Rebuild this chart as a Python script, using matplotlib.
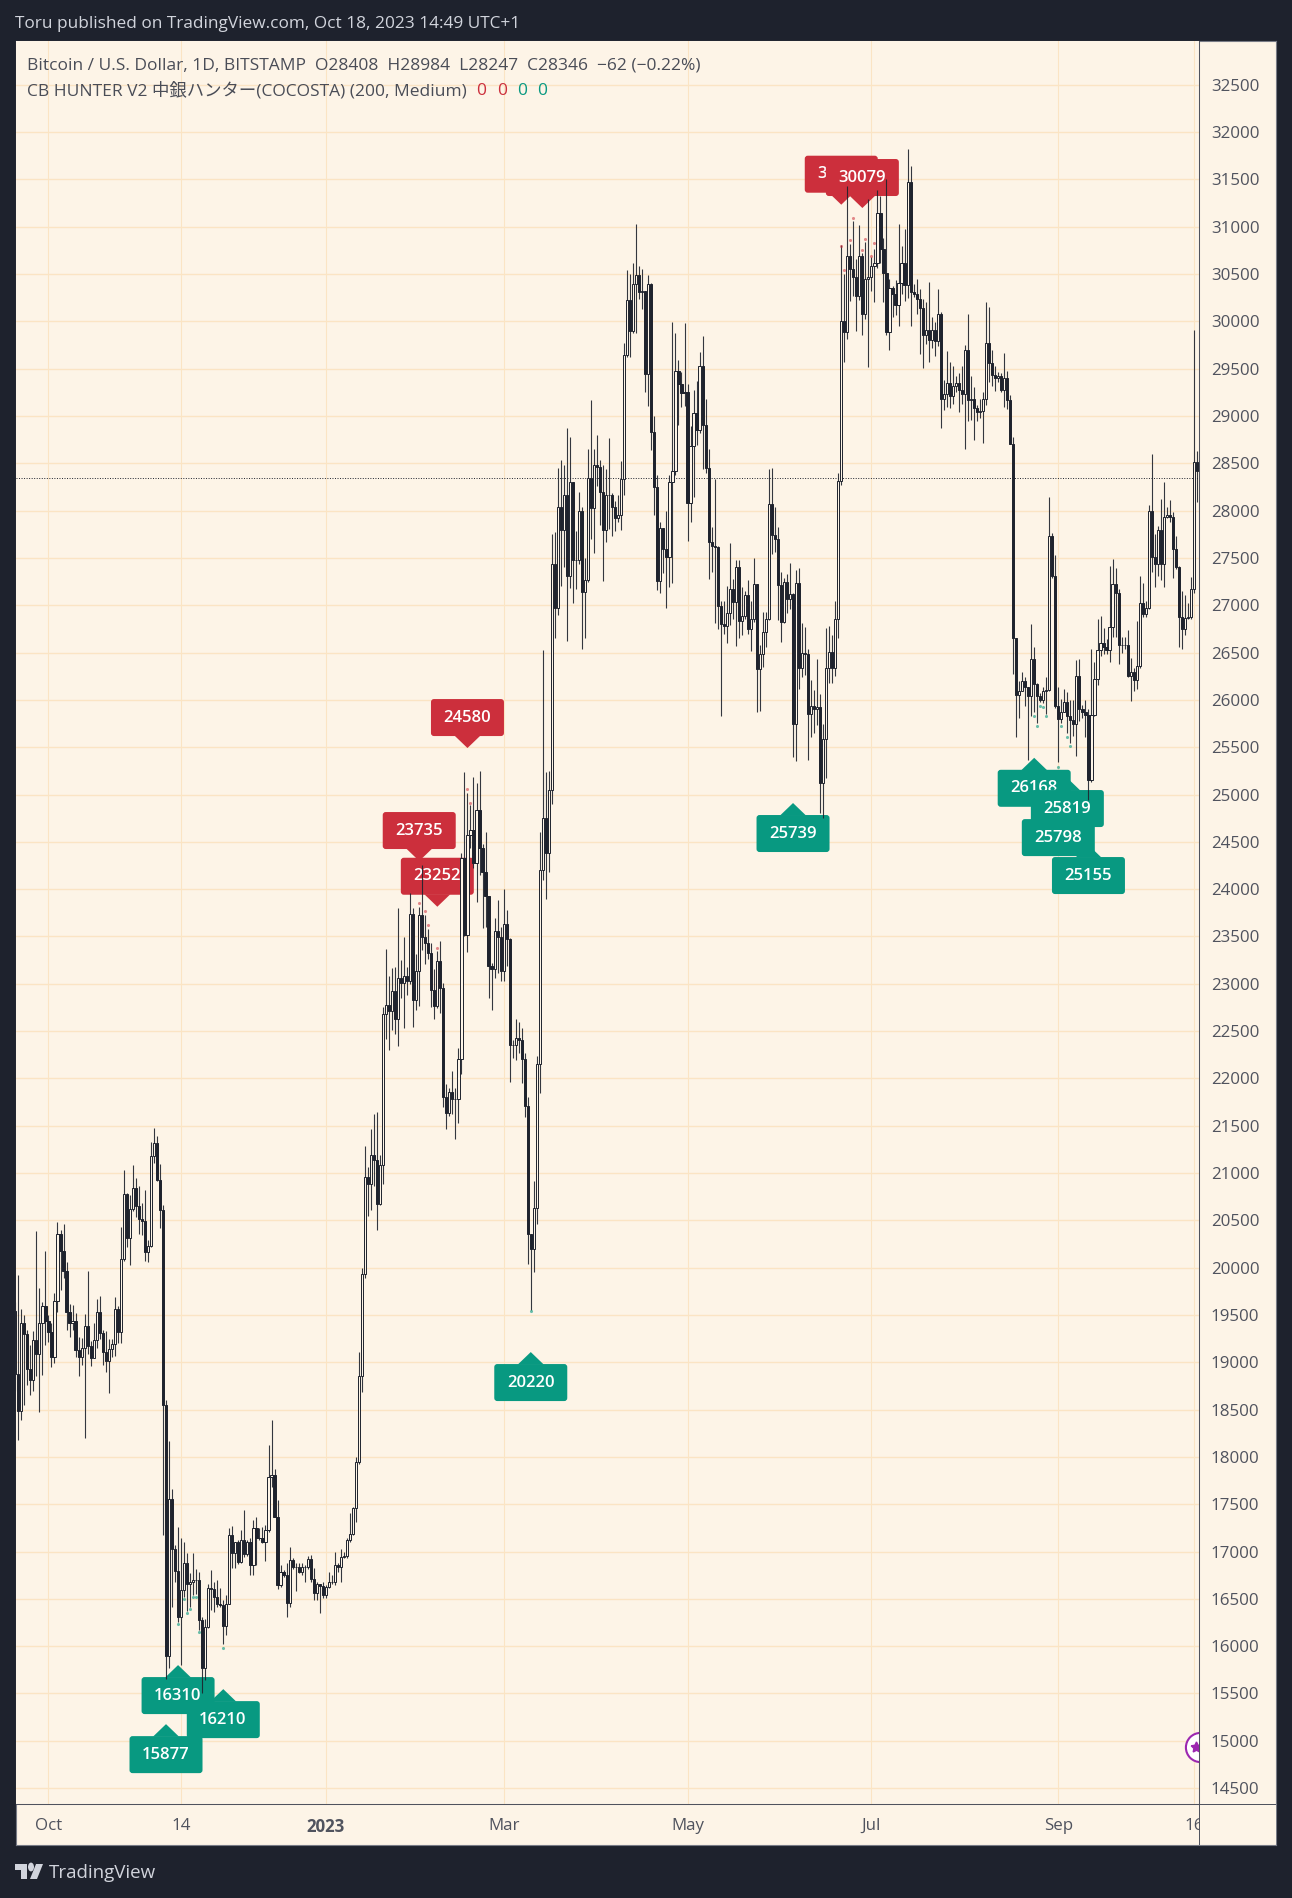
import pandas as pd
import numpy as np
import matplotlib
matplotlib.use('Agg')
import matplotlib.pyplot as plt
import matplotlib.dates as mdates
from matplotlib.patches import Rectangle, FancyBboxPatch, Polygon, Circle
from matplotlib.transforms import Affine2D

plt.rcParams['font.family'] = ['Open Sans', 'Noto Sans CJK JP', 'DejaVu Sans']

W, H = 1292, 1898
DARK = '#1e222d'
CREAM = '#fdf4e7'
GRID = '#fbe4c4'
RED = '#cc2f3c'
TEAL = '#089981'
TICK = '#50535e'

first_open = 19540
first_day = '2022-09-20'

closes = [
    18880, 18480, 19415, 19300, 18925, 18810, 19240, 19085, 19415, 19600, 19440,  # sep
    19320, 19060, 19650, 20360, 20180, 19965, 19535, 19415, 19440, 19135, 19055, 19155, 19385, 19175, 19040, 19240,
    19530, 19310, 19105, 19015, 19145, 19190, 19565, 19320, 20090, 20780, 20310, 20615, 20840, 20650, 20510,  # oct
    20495, 20170, 20230, 21180, 21320, 20930, 20610, 18550, 15894, 17554, 17025, 16796, 16310, 16592, 16881, 16662,
    16680, 16697, 16697, 16275, 15771, 16204, 16617, 16600, 16521, 16450, 16433, 16215, 16450, 17180,  # nov
    16986, 17103, 16891, 17127, 16972, 17103, 16856, 17244, 17138, 17138, 17103, 17226, 17783, 17807, 17367, 16645,
    16786, 16750, 16458, 16909, 16838, 16838, 16786, 16838, 16838, 16926, 16715, 16557, 16655, 16634, 16539,  # dec
    16627, 16680, 16680, 16856, 16838, 16944, 16950, 17127, 17184, 17455, 17941, 18850, 19930, 20960, 20880, 21190,
    21135, 20670, 21080, 22680, 22780, 22710, 22920, 22630, 23060, 23010, 23080, 23030, 23740, 22830, 23130,  # jan
    23730, 23490, 23430, 23330, 22930, 22760, 23240, 22960, 21800, 21630, 21860, 21780, 21785, 22200, 24330, 23520,
    24570, 24630, 24280, 24840, 24440, 24180, 23930, 23190, 23160, 23560, 23490, 23130,  # feb
    23630, 23470, 22350, 22350, 22430, 22410, 22200, 21710, 20360, 20200, 20630, 22150, 24200, 24750, 24380, 25050,
    27440, 26970, 28040, 27800, 28170, 27310, 28300, 27480, 27480, 28000, 27140, 27270, 28350, 28030, 28480,  # mar
    28460, 28200, 27800, 28170, 28170, 28040, 27920, 27950, 28330, 29650, 30230, 29900, 30390, 30490, 30310, 30320,
    29440, 30390, 28830, 28250, 27260, 27820, 27590, 27510, 28300, 28420, 29480, 29340, 29240, 29250,  # apr
    28080, 28680, 29030, 28850, 29530, 28900, 28450, 27670, 27630, 27620, 26990, 26800, 26780, 26920, 27170, 27030,
    27400, 26830, 26890, 27110, 26750, 26850, 27220, 26330, 26480, 26720, 26860, 28070, 27740, 27700, 27210,  # may
    26820, 27250, 27070, 27120, 25740, 27230, 26340, 26500, 26480, 25850, 25940, 25900, 25920, 25120, 25590, 26340,
    26510, 26340, 26850, 28310, 30000, 29890, 30690, 30550, 30470, 30270, 30690, 30080, 30450, 30470,  # jun
    30590, 30620, 31150, 30770, 30510, 29890, 30350, 30290, 30170, 30410, 30620, 30380, 31470, 30310, 30290, 30240,
    30140, 29860, 29910, 29800, 29910, 29790, 30080, 29180, 29230, 29350, 29210, 29320, 29350, 29280, 29230,  # jul
    29700, 29170, 29180, 29080, 29040, 29050, 29180, 29770, 29560, 29430, 29400, 29420, 29280, 29400, 29170, 28700,
    26650, 26054, 26095, 26196, 26135, 26042, 26431, 26164, 26042, 26002, 26095, 26107, 27727, 27310, 25933,  # aug
    25803, 25872, 25973, 25832, 25790, 25750, 26249, 25900, 25872, 25840, 25155, 25844, 26225, 26532, 26601, 26560,
    26532, 26771, 27221, 27128, 26581, 26581, 26580, 26249, 26298, 26208, 26358, 27026, 26905, 26966,  # sep
    27998, 27512, 27431, 27796, 27431, 27938, 27958, 27938, 27593, 27403, 26873, 26751, 26865, 26873, 27168, 28517,
    28416,  # oct
]

highs = [
    19640, 19920, 19564, 19500, 19340, 19180, 19330, 20390, 19780, 19640, 20180,
    19500, 19410, 19730, 20480, 20400, 20460, 20060, 19620, 19610, 19525, 19270, 19260, 19510, 19960, 19230, 19420,
    19670, 19700, 19340, 19330, 19250, 19250, 19690, 19600, 20430, 21030, 20790, 20770, 21090, 20950, 20860,
    20680, 20820, 20290, 21330, 21480, 21390, 21100, 20660, 18600, 18166, 17656, 17067, 17254, 17138, 17103, 16986,
    16768, 16980, 16820, 16786, 16310, 16292, 16662, 16803, 16680, 16698, 16610, 16493, 16539, 17244,
    17268, 17103, 17127, 17226, 17437, 17120, 17138, 17332, 17367, 17244, 17261, 17279, 18124, 18389, 17867, 17543,
    16856, 16803, 16874, 17050, 16927, 16874, 16874, 16874, 16856, 16951, 16962, 16821, 16680, 16660, 16680,
    16644, 16786, 16750, 16997, 16874, 17032, 16990, 17140, 17402, 17470, 18000, 19110, 20000, 21290, 21060, 21470,
    21620, 21650, 21190, 22750, 23370, 23080, 23170, 23180, 23800, 23250, 23490, 23180, 23960, 23800, 23310,
    23810, 24250, 23730, 23580, 23430, 23160, 23350, 23450, 23010, 21940, 21900, 22080, 21900, 22320, 24380, 25240,
    25020, 24890, 25190, 25120, 25250, 24480, 24600, 23880, 23220, 23690, 23880, 23600,
    24000, 23780, 23480, 22410, 22630, 22600, 22530, 22270, 21800, 20350, 20920, 22240, 24600, 26530, 25240, 25250,
    27750, 27770, 28450, 28540, 28480, 28870, 28780, 28200, 27790, 28200, 28040, 27500, 28650, 29170, 28650,
    28800, 28530, 28480, 28440, 28770, 28190, 28100, 28170, 28520, 29770, 30540, 30500, 30620, 31030, 30590, 30550,
    30320, 30490, 30410, 29000, 28380, 27880, 27820, 28000, 28380, 29990, 29880, 29590, 29460, 29980,
    29340, 28890, 29270, 29370, 29680, 29850, 29180, 28650, 27830, 28330, 27630, 27040, 27050, 27200, 27660, 27280,
    27480, 27480, 27190, 27150, 27270, 27050, 27500, 27220, 26580, 26930, 26930, 28440, 28450, 28040, 27830,
    27350, 27290, 27330, 27450, 27130, 27370, 27390, 26810, 26770, 26540, 26210, 26100, 26430, 26060, 25750, 26760,
    26780, 26690, 27050, 28400, 30810, 30500, 31430, 30820, 31060, 30660, 31020, 30720, 30840, 31290,
    30680, 30770, 31390, 31320, 30880, 31500, 30450, 30370, 30440, 31030, 30800, 30980, 31820, 31640, 30400, 30450,
    30340, 30240, 30200, 30420, 30050, 29990, 30340, 30100, 29380, 29690, 29570, 29530, 29420, 29450, 29530,
    29750, 30080, 29420, 29310, 29120, 29180, 29250, 30200, 30150, 29700, 29530, 29470, 29450, 29670, 29480, 29220,
    28780, 26650, 26196, 26300, 26237, 26120, 26804, 26561, 26176, 26075, 26136, 26237, 28140, 27764, 27533,
    26136, 26014, 26115, 26087, 26000, 26000, 26419, 26427, 25950, 26000, 25900, 26540, 26400, 26852, 26885, 26763,
    26640, 27419, 27484, 27391, 27168, 26662, 26662, 26743, 26439, 26338, 26832, 27310, 27237, 27047,
    28059, 28598, 27756, 27836, 28128, 28302, 28040, 28108, 27990, 27735, 27410, 27148, 27107, 27026, 27302, 29910,
    28626,
]

lows = [
    18700, 18180, 18390, 18550, 18760, 18650, 18700, 18850, 18475, 18865, 19180,
    19210, 18950, 18995, 19530, 19760, 19890, 19345, 19270, 19340, 19060, 18860, 18970, 18200, 19090, 18960, 19040,
    19150, 19250, 18970, 18900, 18680, 19060, 19070, 19200, 19200, 20070, 20220, 20030, 20600, 20540, 20360,
    20350, 20070, 20060, 20220, 21110, 20920, 20420, 17170, 15658, 15764, 16409, 16680, 16257, 15799, 16521, 16373,
    16416, 16539, 16550, 16169, 15500, 15640, 16187, 16380, 16363, 16416, 16416, 16018, 16116, 16450,
    16821, 16821, 16870, 16874, 16944, 16950, 16750, 16750, 16856, 17120, 17085, 16902, 17208, 17684, 17367, 16599,
    16620, 16733, 16310, 16416, 16820, 16585, 16768, 16750, 16680, 16820, 16680, 16486, 16486, 16352, 16504,
    16510, 16610, 16662, 16650, 16786, 16680, 16930, 16930, 17100, 17170, 17310, 17920, 18690, 19890, 20550, 20610,
    20860, 20400, 20660, 20880, 22420, 22300, 22510, 22470, 22340, 22850, 22530, 22880, 23000, 22540, 22720,
    22760, 23360, 23210, 23260, 22750, 22630, 22740, 22690, 21700, 21460, 21600, 21620, 21360, 21530, 22050, 23500,
    23340, 24440, 24220, 23860, 24150, 23590, 23600, 22850, 22720, 23060, 23110, 23030,
    23030, 23190, 21960, 22220, 22190, 22270, 21950, 21590, 20040, 19550, 19950, 20460, 21850, 24100, 23900, 24180,
    24900, 26650, 26900, 27200, 27400, 26620, 27180, 27020, 27170, 27440, 26540, 26650, 27250, 27700, 27550,
    28260, 27850, 27260, 27670, 27810, 27730, 27780, 27880, 27800, 28170, 29620, 29620, 29880, 29880, 30240, 30130,
    29250, 29110, 28640, 27950, 27160, 27130, 27340, 26970, 27190, 27240, 28380, 28900, 29090, 29110,
    27680, 27880, 28140, 28690, 28820, 28440, 28400, 27280, 27350, 26810, 26750, 25830, 26700, 26600, 26790, 26860,
    26570, 26650, 26690, 26850, 26700, 26520, 26820, 25870, 25880, 26350, 26560, 26840, 27540, 27560, 26840,
    26610, 26810, 26920, 26960, 25400, 25350, 26120, 26240, 26260, 25370, 25610, 25650, 25730, 24800, 24750, 25170,
    26180, 26180, 26250, 26650, 28270, 29570, 29810, 30220, 30270, 29900, 30230, 29860, 30030, 29521,
    30320, 30200, 30560, 30620, 30200, 29860, 29700, 30050, 30070, 29950, 30290, 30220, 30250, 29950, 30260, 30080,
    29660, 29510, 29760, 29570, 29720, 29630, 29740, 28870, 29060, 29090, 29080, 29130, 29250, 29040, 29130,
    28650, 28950, 28960, 28750, 28950, 28980, 28720, 29120, 29360, 29320, 29260, 29360, 29250, 29100, 29070, 28700,
    26277, 25609, 25811, 26090, 25933, 25366, 25832, 25872, 25751, 25973, 25965, 25852, 26095, 27290, 25913,
    25346, 25760, 25890, 25650, 25548, 25620, 25406, 25780, 25810, 25609, 24941, 25130, 25830, 26156, 26460, 26480,
    26490, 26399, 26662, 26662, 26378, 26500, 26540, 26237, 25993, 26095, 26115, 26340, 26880, 26880,
    26960, 27350, 27188, 27310, 27269, 27197, 27920, 27880, 27290, 27380, 26561, 26540, 26682, 26850, 26850, 27128,
    28092,
]

last_close = 28346

grid_months = ['2022-10-01', '2022-11-14', '2023-01-01', '2023-03-01', '2023-05-01', '2023-07-01', '2023-09-01', '2023-10-16']
month_labels = ['Oct', '14', '2023', 'Mar', 'May', 'Jul', 'Sep', '16']
price_ticks = list(range(14500, 33000, 500))

# zig-zag pivots of the indicator
red_texts = ['24580', '23735', '23252', '3', '30079']
red_days = ['2023-02-17', '2023-02-01', '2023-02-07', '2023-06-21', '2023-06-28']
red_tips = [25491, 24297, 23814, 31233, 31198]
green_texts = ['16310', '16210', '15877', '20220', '25739', '26168', '25798', '25819', '25155']
green_days = ['2022-11-13', '2022-11-28', '2022-11-09', '2023-03-10', '2023-06-05', '2023-08-24', '2023-09-01', '2023-09-04', '2023-09-11']
green_tips = [15800, 15546, 15176, 19108, 24910, 25388, 24867, 25174, 24466]

red_dot_days = ['2023-02-01', '2023-02-03', '2023-02-04', '2023-02-07', '2023-02-17', '2023-02-18',
                '2023-06-21', '2023-06-22', '2023-06-24', '2023-06-25', '2023-06-28', '2023-06-29', '2023-07-01', '2023-07-02']
red_dot_prices = [23856, 23768, 23620, 23380, 25057, 24913, 30796, 30543, 30860, 31092, 30754, 30870, 30690, 30827]
green_dot_days = ['2022-11-13', '2022-11-15', '2022-11-16', '2022-11-17', '2022-11-18', '2022-11-19', '2022-11-20', '2022-11-28',
                  '2023-03-10', '2023-08-24', '2023-08-25', '2023-08-26', '2023-08-27', '2023-08-28', '2023-09-01', '2023-09-02',
                  '2023-09-04', '2023-09-05']
green_dot_prices = [16236, 16497, 16349, 16391, 16518, 16518, 16148, 15982,
                    19541, 25830, 25724, 25936, 25930, 25830, 25293, 25724, 25608, 25516]


def num(days):
    return mdates.date2num(pd.to_datetime(days))


def px_rect(x0, y0, x1, y1):
    # top-left pixel coordinates to figure fractions
    return [x0 / W, 1 - y1 / H, (x1 - x0) / W, (y1 - y0) / H]


fig = plt.figure(figsize=(W / 100, H / 100), dpi=100, facecolor=DARK)

panel = fig.add_axes(px_rect(15.7, 41, 1276, 1845), facecolor=CREAM)
panel.set_xticks([])
panel.set_yticks([])
for s in panel.spines.values():
    s.set_color('#787b86')
    s.set_linewidth(0.8)

ax = fig.add_axes(px_rect(15.7, 41, 1199, 1804), facecolor=CREAM)
d0 = mdates.date2num(pd.Timestamp('2022-09-21'))
ax.set_xlim(d0 - 0.862, d0 + 391.67)
ax.set_ylim(14332, 32963)

ax.set_yticks(price_ticks)
ax.set_yticklabels([str(p) for p in price_ticks], fontsize=12.2, color=TICK)
ax.yaxis.tick_right()
ax.set_xticks(num(grid_months))
ax.set_xticklabels(month_labels, fontsize=12.2, color=TICK)
ax.tick_params(axis='both', length=0)
ax.tick_params(axis='x', pad=10)
ax.tick_params(axis='y', pad=8.5)
ax.get_xticklabels()[2].set_fontweight('bold')
ax.grid(axis='y', color=GRID, lw=1.0)
ax.grid(axis='x', color=GRID, lw=0.8)
ax.set_axisbelow(True)
for name, s in ax.spines.items():
    s.set_visible(name in ('right', 'bottom'))
    s.set_color(TICK)
    s.set_linewidth(0.75)
    s.set_zorder(6)

# candles
days = pd.date_range(first_day, periods=len(closes), freq='D')
x = num(days)
c = np.array(closes, dtype=float)
o = np.r_[first_open, c[:-1]]
h = np.array(highs, dtype=float)
l = np.array(lows, dtype=float)
up = c >= o
ax.axhline(last_close, color=DARK, lw=0.7, ls=(0, (1, 1.6)), zorder=1.5)
ax.vlines(x, l, h, color=DARK, lw=0.8, alpha=0.9, zorder=3)
ax.bar(x[up], (c - o)[up], bottom=o[up], width=0.72, facecolor=CREAM, edgecolor=DARK, lw=0.7, zorder=3.2)
ax.bar(x[~up], (o - c)[~up], bottom=c[~up], width=0.72, facecolor=DARK, edgecolor=DARK, lw=0.7, zorder=3.2)


def pivot_label(day, tip, text, color, above):
    # label with its point on the pivot; box sits above or below the tip, sizes in pixels
    px, py = ax.transData.transform((num(day), tip))
    tr = Affine2D().translate(px, py)
    sign = 1 if above else -1
    y0 = 12 if above else -49
    ax.add_patch(FancyBboxPatch((-36.5, y0), 73, 37, boxstyle='round,pad=0,rounding_size=3', fc=color, ec='none',
                                transform=tr, zorder=2, clip_on=False))
    ax.add_patch(Polygon([(-13, sign * 12.5), (0, 0), (13, sign * 12.5)], fc=color, ec='none', transform=tr, zorder=2, clip_on=False))
    ax.text(-24, y0 + 18.5, text, color='white', fontsize=12, fontweight='semibold', ha='left', va='center', transform=tr, zorder=2, clip_on=False)


for t, d, p in zip(red_texts, red_days, red_tips):
    pivot_label(d, p, t, RED, True)
for t, d, p in zip(green_texts, green_days, green_tips):
    pivot_label(d, p, t, TEAL, False)

ax.scatter(num(red_dot_days), red_dot_prices, s=5, color=RED, alpha=0.55, linewidths=0, zorder=4)
ax.scatter(num(green_dot_days), green_dot_prices, s=5, color=TEAL, alpha=0.6, linewidths=0, zorder=4)

# event marker, cut by the price scale
ax.plot(num('2023-10-18'), 14936, 'o', ms=21, mfc='white', mec='#9c27b0', mew=1.5, zorder=5)
ax.plot(num('2023-10-18') - 1.2, 14936, marker=(5, 1), ms=8, color='#9c27b0', zorder=5.1)

# price scale hides the last date label
fig.add_artist(Rectangle((1199.5 / W, 1 - 1844 / H), 76 / W, 40 / H, transform=fig.transFigure, fc=CREAM, ec='none', zorder=5))
fig.add_artist(Rectangle((1199 / W, 1 - 1845 / H), 0.9 / W, 41 / H, transform=fig.transFigure, fc=TICK, ec='none', zorder=5))
fig.add_artist(Rectangle((1199.9 / W, 1 - 1804.6 / H), 76 / W, 1 / H, transform=fig.transFigure, fc=TICK, ec='none', zorder=5))


def txt(xp, yp, s, color, size=11.0, **kw):
    fig.text(xp / W, 1 - yp / H, s, color=color, fontsize=size, va='center', zorder=8, **kw)


txt(15, 24, 'Toru published on TradingView.com, Oct 18, 2023 14:49 UTC+1', '#d1d4dc', 12.4)
txt(27, 66, 'Bitcoin / U.S. Dollar, 1D, BITSTAMP  O28408  H28984  L28247  C28346  \u221262 (\u22120.22%)', '#4a4d57', 12.5)
txt(27, 91, 'CB HUNTER V2 中銀ハンター(COCOSTA) (200, Medium)', '#4a4d57', 12.5)
for xp, col in zip([476, 497, 517, 537], [RED, RED, TEAL, TEAL]):
    txt(xp, 91, '0', col, 12.5)

# footer logo
fig.add_artist(Polygon([(15 / W, 1 - 1864 / H), (27 / W, 1 - 1864 / H), (27 / W, 1 - 1879 / H), (21 / W, 1 - 1879 / H),
                        (21 / W, 1 - 1870 / H), (15 / W, 1 - 1870 / H)], transform=fig.transFigure, fc='#d1d4dc', ec='none'))
fig.add_artist(Polygon([(36 / W, 1 - 1864 / H), (43 / W, 1 - 1864 / H), (37 / W, 1 - 1879 / H), (30 / W, 1 - 1879 / H)],
                       transform=fig.transFigure, fc='#d1d4dc', ec='none'))
fig.add_artist(Circle((31 / W, 1 - 1867 / H), 3 / W, transform=fig.transFigure, fc='#d1d4dc', ec='none'))
txt(49, 1873, 'TradingView', '#d1d4dc', 13.5)

fig.savefig('out.png', dpi=100, facecolor=DARK)
